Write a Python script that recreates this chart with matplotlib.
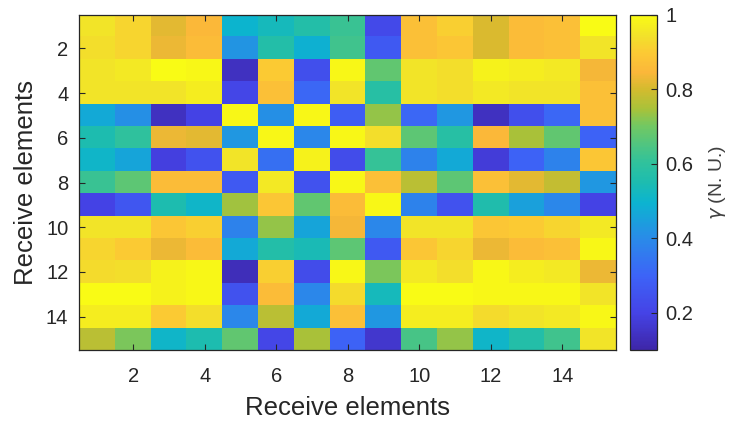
import matplotlib
matplotlib.use("Agg")
import matplotlib.pyplot as plt
import numpy as np
from matplotlib.colors import LinearSegmentedColormap

# gamma values, rows 1..15 (top to bottom)
row01 = [0.95, 0.92, 0.82, 0.85, 0.50, 0.53, 0.57, 0.62, 0.22, 0.87, 0.91, 0.81, 0.86, 0.87, 1.00]
row02 = [0.94, 0.92, 0.83, 0.86, 0.42, 0.57, 0.49, 0.63, 0.27, 0.87, 0.89, 0.81, 0.86, 0.87, 0.95]
row03 = [0.95, 0.96, 1.00, 0.99, 0.14, 0.90, 0.24, 0.99, 0.68, 0.95, 0.94, 0.98, 0.97, 0.96, 0.84]
row04 = [0.95, 0.95, 0.95, 0.97, 0.21, 0.87, 0.31, 0.95, 0.58, 0.95, 0.94, 0.96, 0.95, 0.95, 0.87]
row05 = [0.47, 0.41, 0.14, 0.20, 0.99, 0.41, 0.99, 0.28, 0.73, 0.31, 0.43, 0.14, 0.24, 0.31, 0.87]
row06 = [0.55, 0.60, 0.83, 0.82, 0.43, 0.99, 0.39, 0.99, 0.94, 0.67, 0.58, 0.85, 0.75, 0.68, 0.30]
row07 = [0.51, 0.46, 0.19, 0.25, 0.95, 0.33, 0.98, 0.23, 0.61, 0.38, 0.47, 0.18, 0.30, 0.38, 0.89]
row08 = [0.62, 0.67, 0.86, 0.86, 0.27, 0.96, 0.25, 0.99, 0.87, 0.77, 0.67, 0.87, 0.82, 0.78, 0.43]
row09 = [0.20, 0.26, 0.55, 0.51, 0.74, 0.89, 0.68, 0.86, 0.99, 0.38, 0.25, 0.56, 0.45, 0.39, 0.20]
row10 = [0.95, 0.95, 0.89, 0.91, 0.38, 0.73, 0.46, 0.84, 0.39, 0.95, 0.95, 0.89, 0.90, 0.92, 0.96]
row11 = [0.92, 0.90, 0.83, 0.86, 0.47, 0.57, 0.54, 0.67, 0.27, 0.89, 0.92, 0.83, 0.86, 0.87, 0.99]
row12 = [0.93, 0.94, 0.98, 0.99, 0.13, 0.91, 0.23, 0.99, 0.71, 0.96, 0.94, 0.99, 0.97, 0.96, 0.83]
row13 = [1.00, 1.00, 0.98, 0.99, 0.25, 0.86, 0.39, 0.93, 0.53, 1.00, 1.00, 0.99, 0.99, 0.99, 0.95]
row14 = [0.97, 0.97, 0.90, 0.94, 0.39, 0.77, 0.47, 0.87, 0.43, 0.97, 0.97, 0.93, 0.95, 0.96, 0.99]
row15 = [0.77, 0.71, 0.51, 0.55, 0.68, 0.21, 0.75, 0.30, 0.16, 0.64, 0.73, 0.51, 0.57, 0.63, 0.95]

gamma = np.array([row01, row02, row03, row04, row05, row06, row07, row08,
                  row09, row10, row11, row12, row13, row14, row15])

ticks = [2, 4, 6, 8, 10, 12, 14]
cbar_ticks = [0.2, 0.4, 0.6, 0.8, 1.0]

# parula-like colour map
parula_pos = [0.00, 0.11, 0.22, 0.33, 0.44, 0.50, 0.56, 0.67, 0.72, 0.78, 0.83, 0.89, 0.94, 1.00]
parula_hex = ["#3e26a8", "#4543e6", "#3d63f7", "#2a8ae9", "#0cb4d0", "#1dbcb0",
              "#30c29c", "#72c862", "#a8c23a", "#d4bb2e", "#fbb73a", "#fcca34",
              "#f2e22a", "#f9fb15"]
parula = LinearSegmentedColormap.from_list("parula", list(zip(parula_pos, parula_hex)))

plt.rcParams["font.family"] = ["Liberation Sans", "DejaVu Sans"]
dark = "#262626"

fig = plt.figure(figsize=(7.29, 4.26), dpi=100)
ax = fig.add_axes([0.109, 0.178, 0.736, 0.787])
cax = fig.add_axes([0.864, 0.178, 0.037, 0.787])

n = gamma.shape[0]
im = ax.imshow(gamma, cmap=parula, vmin=0.1, vmax=1.0, aspect="auto",
               extent=(0.5, n + 0.5, n + 0.5, 0.5), interpolation="nearest")

ax.set_xticks(ticks)
ax.set_yticks(ticks)
ax.tick_params(direction="in", top=True, right=True, length=4, width=0.8,
               labelsize=14.5, colors=dark)
ax.tick_params(axis="x", pad=12)
ax.tick_params(axis="y", pad=8)
for s in ax.spines.values():
    s.set_color(dark)
    s.set_linewidth(0.9)
ax.set_xlabel("Receive elements", fontsize=18.5, color=dark, labelpad=7)
ax.set_ylabel("Receive elements", fontsize=18.5, color=dark, labelpad=6)

cb = fig.colorbar(im, cax=cax, ticks=cbar_ticks)
cb.ax.set_yticklabels(["%g" % t for t in cbar_ticks])
cb.ax.tick_params(direction="in", length=4, width=0.8, labelsize=14.5, colors=dark, pad=6)
cb.outline.set_edgecolor(dark)
cb.outline.set_linewidth(0.9)
cb.set_label(r"$\gamma$ (N. U.)", fontsize=14, color="#404040", labelpad=10)

fig.savefig("out.png", dpi=100)
